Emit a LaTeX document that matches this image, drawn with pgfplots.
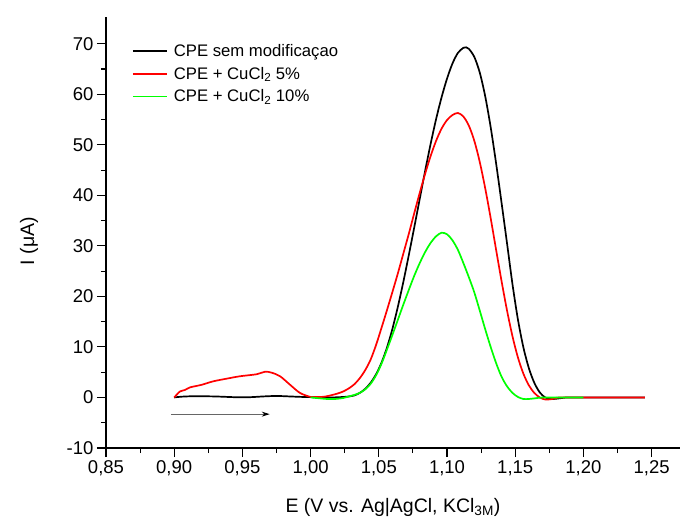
\documentclass[border=0pt]{standalone}
\usepackage{pgfplots}
\pgfplotsset{compat=1.18}
\usepackage{fontspec}
\setmainfont{Liberation Sans}
\usetikzlibrary{arrows.meta}
\definecolor{cred}{RGB}{255,0,0}
\definecolor{cgreen}{RGB}{0,255,0}
\begin{document}
\begin{tikzpicture}
\begin{axis}[
  scale only axis, width=574bp, height=431bp,
  xmin=0.85, xmax=1.2708, ymin=-10, ymax=75.3,
  axis x line*=bottom, axis y line*=left,
  axis line style={line width=1.1bp, -},
  xtick={0.85,0.90,0.95,1.00,1.05,1.10,1.15,1.20,1.25},
  ytick={-10,0,10,20,30,40,50,60,70},
  minor x tick num=1, minor y tick num=1,
  tick align=outside,
  major tick length=9bp, minor tick length=5bp,
  every tick/.style={line width=1.1bp, black},
  /pgf/number format/assume math mode=true,
  xticklabel style={/pgf/number format/.cd, fixed, fixed zerofill, precision=2, use comma},
  yticklabel style={/pgf/number format/.cd, fixed, precision=0},
  tick label style={font=\fontsize{18.5bp}{22bp}\selectfont},
  label style={font=\fontsize{19.5bp}{23bp}\selectfont},
  xlabel={E (V vs. Ag|AgCl, KCl\textsubscript{3M})},
  ylabel={I (μA)},
  xlabel style={at={(axis description cs:0.5,-0.1493)}, anchor=base},
  ylabel style={at={(axis description cs:-0.134,0.48)}, anchor=center},
  legend style={at={(axis description cs:0.040,0.946)}, anchor=north west, draw=none, fill=none,
    font=\fontsize{16.7bp}{20bp}\selectfont, row sep=5bp},
  legend cell align=left,
  legend image code/.code={\draw[#1] (0bp,0bp) -- (34bp,0bp); \path (38bp,0bp);},
  clip=false,
]
\addplot[black, line width=1.7bp, smooth, tension=0.5] coordinates {
(0.900,0) (0.905,0.15) (0.915,0.25) (0.930,0.2) (0.945,0.05) (0.955,0.05) (0.965,0.2)
(0.975,0.3) (0.985,0.2) (0.995,0.1) (1.005,0.05) (1.015,0.0) (1.024,0.1) (1.028,0.2)
(1.032,0.4) (1.036,0.9) (1.040,1.7) (1.044,2.9) (1.048,4.6) (1.052,6.9) (1.056,9.9)
(1.060,13.6) (1.064,18.0) (1.068,22.9) (1.072,28.2) (1.076,33.7) (1.080,39.3) (1.084,44.9)
(1.088,50.2) (1.092,55.1) (1.096,59.4) (1.100,63.1) (1.104,66.1) (1.108,68.2) (1.112,69.2)
(1.114,69.3) (1.116,69.0) (1.120,67.4) (1.124,64.3) (1.128,59.6) (1.132,53.5) (1.136,46.3)
(1.140,38.5) (1.144,30.5) (1.148,22.4) (1.152,15.4) (1.156,9.9) (1.160,5.8) (1.164,2.9)
(1.168,1.0) (1.172,0.0) (1.176,-0.3) (1.180,-0.25) (1.186,-0.05) (1.192,0) (1.245,0)
};
\addlegendentry{CPE sem modificaçao}
\addplot[cred, line width=1.7bp, smooth, tension=0.5] coordinates {
(0.900,0) (0.902,0.6) (0.9043,1.2) (0.908,1.5) (0.9116,2.0) (0.920,2.5) (0.9287,3.2)
(0.940,3.8) (0.9482,4.2) (0.9605,4.6) (0.9666,5.1) (0.9715,4.9) (0.9776,4.2) (0.985,2.5)
(0.9922,0.9) (1.000,0.1) (1.004,0.1) (1.008,0.1) (1.012,0.25) (1.016,0.5) (1.020,0.8)
(1.024,1.2) (1.028,1.8) (1.032,2.6) (1.036,3.8) (1.040,5.4) (1.044,7.5) (1.048,10.4)
(1.052,13.8) (1.056,17.3) (1.060,20.9) (1.064,24.6) (1.068,28.5) (1.072,32.4) (1.076,36.5)
(1.080,40.5) (1.084,44.3) (1.088,47.8) (1.092,50.8) (1.096,53.2) (1.100,54.9) (1.104,55.9)
(1.108,56.3) (1.112,55.6) (1.116,53.8) (1.120,50.8) (1.124,46.6) (1.128,41.4) (1.132,35.5)
(1.136,29.2) (1.140,23.0) (1.144,17.2) (1.148,12.1) (1.152,7.9) (1.156,4.7) (1.160,2.4)
(1.164,0.9) (1.168,0.0) (1.172,-0.4) (1.176,-0.35) (1.180,-0.15) (1.186,0) (1.245,0)
};
\addlegendentry{CPE + CuCl\textsubscript{2} 5\%}
\addplot[cgreen, line width=1.7bp, smooth, tension=0.5] coordinates {
(1.000,0) (1.006,-0.15) (1.012,-0.3) (1.018,-0.3) (1.024,-0.1) (1.028,0.2) (1.032,0.5)
(1.036,0.9) (1.040,1.6) (1.044,2.7) (1.048,4.4) (1.052,6.7) (1.056,9.5) (1.060,12.4)
(1.064,15.4) (1.068,18.4) (1.072,21.3) (1.076,24.1) (1.080,26.6) (1.084,28.8) (1.088,30.6)
(1.092,31.9) (1.096,32.6) (1.100,32.3) (1.104,31.1) (1.108,29.2) (1.112,26.6) (1.116,23.8)
(1.120,20.8) (1.124,17.2) (1.128,13.5) (1.132,10.0) (1.136,6.8) (1.140,4.1) (1.144,2.2)
(1.148,0.9) (1.152,0.1) (1.156,-0.3) (1.160,-0.3) (1.165,-0.15) (1.172,0) (1.200,0)
};
\addlegendentry{CPE + CuCl\textsubscript{2} 10\%}
\draw[-{Stealth[length=8bp,width=5bp,black]}, black!60, line width=0.9bp]
  (axis cs:0.8975,-3.3) -- (axis cs:0.970,-3.3);
\end{axis}
\pgfresetboundingbox
\path (current axis.south west) ++(-106bp,-73bp) rectangle ++(680bp,521bp);
\end{tikzpicture}
\end{document}
